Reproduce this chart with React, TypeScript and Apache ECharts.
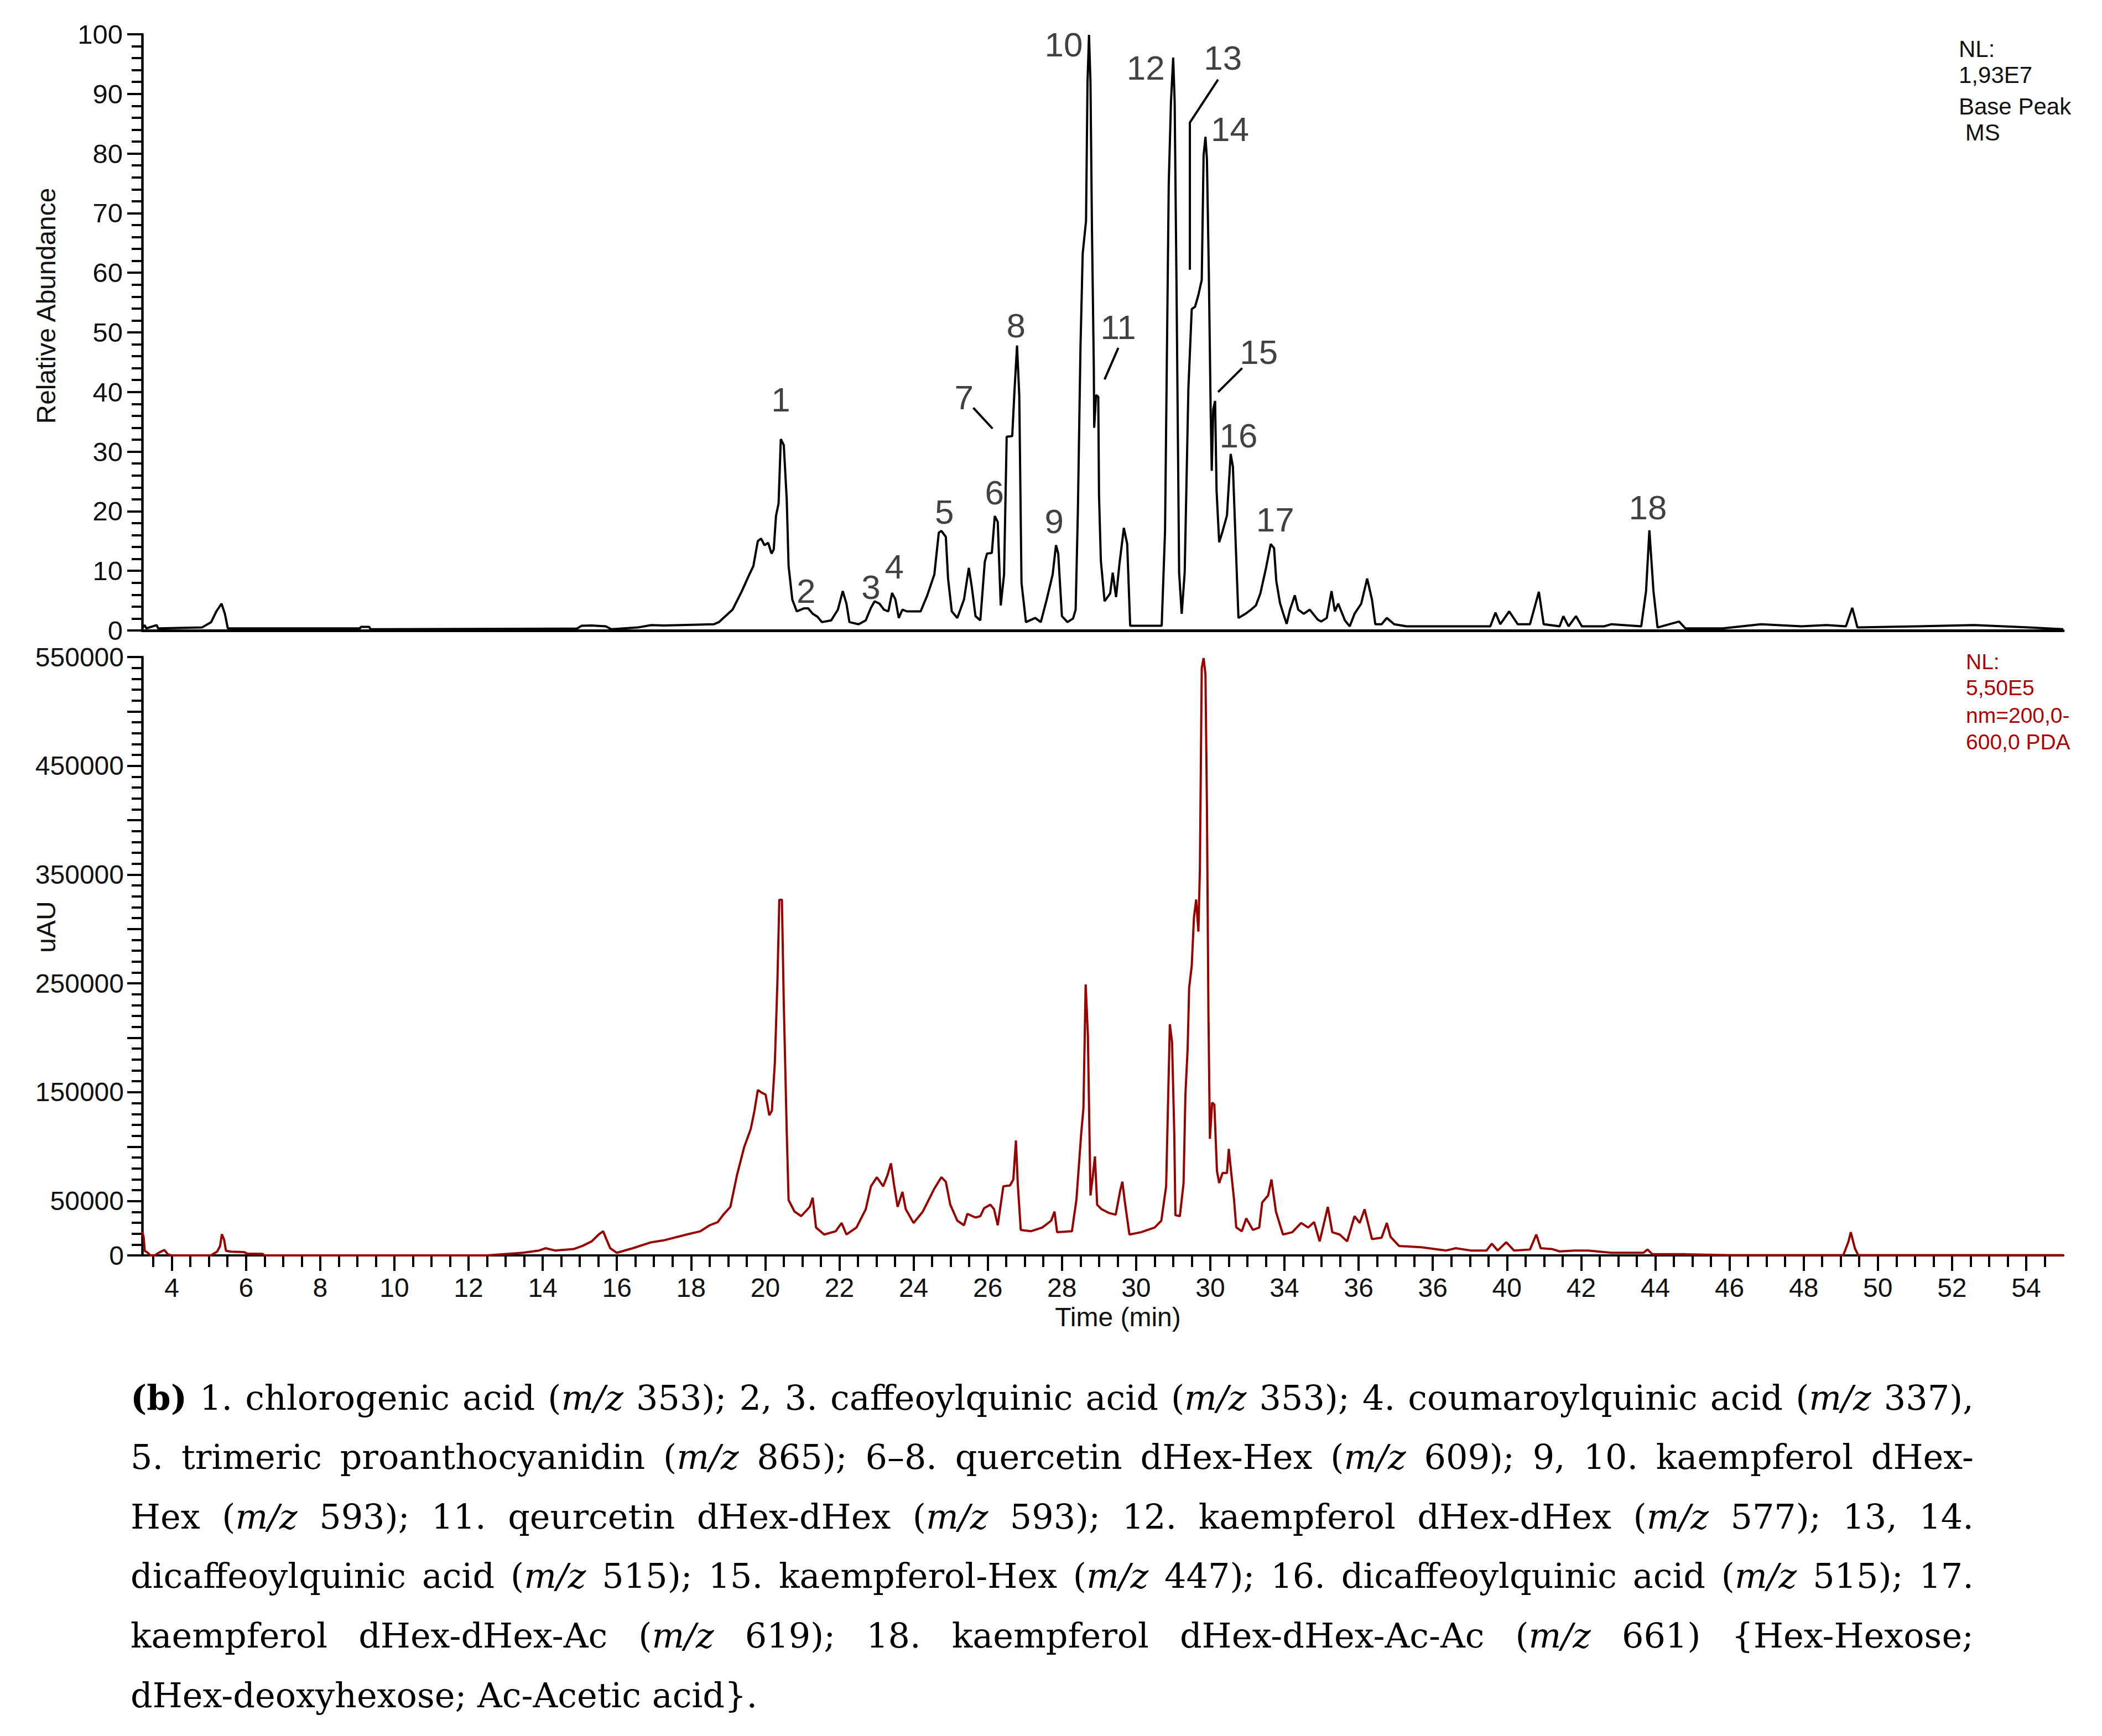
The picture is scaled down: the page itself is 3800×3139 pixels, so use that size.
import React, { useEffect, useRef } from 'react';
import * as echarts from 'echarts';

const W = 3800;
const H = 3139;

// ---- MS base peak chromatogram (top, relative abundance %) ----
const msTime = [
  3.2, 3.27, 3.31, 3.59, 3.63, 4.81, 5.06, 5.2, 5.34, 5.43, 5.51, 9.07, 9.1, 9.32, 9.36, 14.92, 15.05, 15.32, 15.7, 15.85,
  16.56, 16.93, 17.26, 18.62, 18.75, 19.12, 19.37, 19.55, 19.68, 19.8, 19.89, 19.98, 20.08, 20.17, 20.23, 20.29, 20.36,
  20.42, 20.5, 20.58, 20.63, 20.73, 20.85, 21.04, 21.16, 21.28, 21.41, 21.53, 21.78, 21.96, 22.09, 22.19, 22.27, 22.52,
  22.71, 22.85, 22.95, 23.08, 23.2, 23.32, 23.42, 23.51, 23.6, 23.7, 23.82, 24.19, 24.37, 24.56, 24.68, 24.75, 24.87,
  24.93, 25.03, 25.18, 25.36, 25.49, 25.57, 25.67, 25.8, 25.92, 25.98, 26.11, 26.19, 26.27, 26.35, 26.44, 26.51, 26.66,
  26.72, 26.79, 26.85, 26.91, 27.03, 27.28, 27.43, 27.59, 27.75, 27.84, 27.9, 28.0, 28.15, 28.3, 28.37, 28.43, 28.5,
  28.56, 28.65, 28.69, 28.73, 28.77, 28.81, 28.86, 28.87, 28.92, 28.98, 29.0, 29.05, 29.15, 29.3, 29.37, 29.46, 29.55,
  29.67, 29.76, 29.84, 30.69, 30.78, 30.88, 30.94, 31.0, 31.04, 31.09, 31.16, 31.23, 31.31, 31.41, 31.5, 31.59, 31.68,
  31.77, 31.82, 31.87, 31.91, 31.96, 32.01, 32.04, 32.08, 32.13, 32.17, 32.24, 32.33, 32.45, 32.55, 32.61, 32.69, 32.76,
  32.95, 33.1, 33.23, 33.35, 33.5, 33.63, 33.72, 33.78, 33.88, 33.97, 34.06, 34.15, 34.28, 34.37, 34.52, 34.68, 34.77,
  34.9, 34.99, 35.14, 35.27, 35.36, 35.45, 35.63, 35.76, 35.89, 36.07, 36.23, 36.36, 36.45, 36.62, 36.76, 36.96, 37.29,
  38.22, 39.55, 39.69, 39.82, 40.06, 40.29, 40.62, 40.86, 40.99, 41.42, 41.52, 41.66, 41.86, 42.02, 42.62, 42.82, 43.62,
  43.75, 43.84, 43.95, 44.06, 44.64, 44.81, 45.81, 46.85, 47.94, 48.61, 49.14, 49.31, 49.45, 51.07, 52.6, 54.07, 55.0,
];
const msAbund = [
  0.35, 0.9, 0.35, 0.9, 0.35, 0.5, 1.4, 3.2, 4.5, 2.8, 0.35, 0.35, 0.6, 0.6, 0.2, 0.3, 0.8, 0.84, 0.7, 0.2,
  0.5, 0.9, 0.84, 1.05, 1.4, 3.5, 6.6, 9.1, 10.8, 15.0, 15.4, 14.3, 14.7, 12.9, 13.6, 19.2, 21.3,
  32.1, 31.1, 22.0, 10.8, 5.2, 3.2, 3.7, 3.7, 2.8, 2.3, 1.4, 1.7, 3.5, 6.6, 4.5, 1.4, 1.05,
  1.7, 3.8, 4.9, 4.5, 3.5, 3.2, 6.3, 5.2, 2.1, 3.5, 3.2, 3.2, 5.9, 9.4, 16.4, 16.7, 15.7,
  8.7, 3.2, 2.1, 5.2, 10.5, 7.3, 2.4, 1.7, 11.5, 12.9, 13.0, 19.2, 18.2, 4.2, 9.4, 32.5, 32.6,
  40.1, 47.8, 39.4, 8.0, 1.4, 2.1, 1.4, 5.2, 9.4, 14.3, 12.9, 2.4, 1.4, 2.0, 3.5, 20.0, 47.4,
  63.2, 68.7, 92.0, 99.9, 92.0, 67.3, 44.0, 34.0, 39.5, 39.2, 22.7, 11.7, 4.9, 6.2, 9.7, 5.6, 11.1,
  17.2, 14.5, 0.8, 0.8, 16.6, 74.9, 88.6, 96.1, 88.6, 57.7, 9.7, 2.8, 9.7, 40.6, 53.9, 54.3, 56.3,
  58.8, 79.7, 82.8, 79.0, 60.5, 37.1, 26.8, 37.1, 38.5, 23.4, 14.8, 16.6, 19.3, 29.6, 27.5, 13.8, 2.1,
  2.8, 3.5, 4.2, 6.2, 10.4, 14.5, 13.8, 8.3, 4.6, 2.8, 1.1, 3.5, 5.9, 3.5, 2.8, 3.5, 2.8,
  1.8, 1.5, 2.1, 6.6, 3.2, 4.5, 1.7, 0.7, 2.8, 4.5, 8.7, 5.2, 1.05, 1.05, 2.1, 1.05, 0.7,
  0.7, 0.7, 3.0, 1.05, 3.2, 1.05, 1.05, 6.5, 1.05, 0.7, 2.4, 0.7, 2.4, 0.7, 0.7, 1.05, 0.7,
  6.6, 16.8, 6.6, 0.5, 1.5, 0.35, 0.35, 1.05, 0.7, 0.9, 0.7, 3.8, 0.5, 0.7, 0.9, 0.5, 0.2,
];

// ---- PDA chromatogram (bottom, uAU) ----
const pdaTime = [
  3.2, 3.24, 3.27, 3.35, 3.42, 3.55, 3.65, 3.8, 3.9, 4.0, 5.05, 5.22, 5.3, 5.35, 5.41, 5.46, 5.6, 5.95, 6.03, 6.45, 6.5,
  12.48, 13.46, 13.9, 14.08, 14.33, 14.83, 15.07, 15.32, 15.51, 15.63, 15.69, 15.82, 16.0, 16.43, 16.93, 17.26, 17.88,
  18.25, 18.5, 18.72, 18.87, 19.06, 19.24, 19.43, 19.61, 19.71, 19.8, 19.89, 20.01, 20.11, 20.18, 20.26, 20.33, 20.38,
  20.45, 20.5, 20.58, 20.63, 20.79, 20.97, 21.2, 21.28, 21.37, 21.59, 21.9, 22.06, 22.19, 22.46, 22.71, 22.85, 23.01,
  23.18, 23.3, 23.39, 23.47, 23.57, 23.7, 23.79, 24.0, 24.25, 24.56, 24.75, 24.87, 24.99, 25.18, 25.36, 25.45, 25.67,
  25.8, 25.9, 26.07, 26.17, 26.27, 26.42, 26.6, 26.69, 26.76, 26.81, 26.89, 27.16, 27.47, 27.71, 27.8, 27.87, 28.27,
  28.39, 28.52, 28.58, 28.64, 28.7, 28.77, 28.83, 28.89, 28.95, 29.07, 29.26, 29.45, 29.57, 29.63, 29.69, 29.82, 30.13,
  30.5, 30.68, 30.81, 30.91, 30.97, 31.03, 31.06, 31.18, 31.28, 31.33, 31.39, 31.43, 31.5, 31.56, 31.62, 31.68, 31.72,
  31.77, 31.82, 31.87, 31.91, 31.95, 31.99, 32.05, 32.11, 32.18, 32.24, 32.33, 32.45, 32.5, 32.56, 32.64, 32.7, 32.85,
  32.97, 33.15, 33.32, 33.4, 33.56, 33.65, 33.77, 33.96, 34.21, 34.45, 34.64, 34.8, 34.95, 35.17, 35.29, 35.49, 35.69,
  35.89, 36.03, 36.16, 36.36, 36.62, 36.76, 36.86, 37.09, 37.69, 38.36, 38.62, 39.02, 39.45, 39.59, 39.75, 39.98, 40.19,
  40.62, 40.79, 40.91, 41.22, 41.42, 41.82, 42.19, 42.82, 43.68, 43.79, 43.92, 44.75, 45.95, 49.07, 49.21, 49.27, 49.38,
  49.47, 55.0,
];
const pdaAbs = [
  22000, 16900, 4200, 2500, 0, 300, 2500, 5000, 800, 0, 0, 3400, 8500, 19500, 14400, 4200, 3400, 3000, 1700, 1400, 0,
  0, 2400, 4500, 6600, 4500, 5800, 8700, 12900, 19200, 22200, 17100, 6600, 2400, 6600, 12100, 13800, 19200,
  22200, 27700, 30600, 37400, 44600, 74000, 99300, 116200, 133000, 152000, 149900, 147800, 128800, 133000, 177300, 253200, 326900,
  326900, 232100, 114100, 50900, 40300, 36100, 44600, 53000, 25600, 19200, 22200, 29800, 19200, 25600, 42400, 63500, 71900,
  63500, 74000, 84600, 65600, 44600, 58400, 42400, 29800, 40300, 61400, 71900, 67700, 46600, 31900, 27700, 38200, 34800,
  36100, 43300, 46600, 42400, 27700, 63500, 64300, 69800, 105600, 65600, 23400, 22200, 25600, 31900, 40300, 21300, 22200,
  50900, 112000, 135200, 249000, 202600, 55100, 71900, 90900, 46600, 42400, 39100, 37400, 59300, 67700, 50900, 19200, 21300,
  25600, 31900, 63500, 212500, 195900, 110900, 37000, 36100, 66500, 147800, 190400, 245800, 266100, 310500, 327100, 297600, 354900,
  539700, 549000, 534200, 412200, 223600, 107200, 140400, 138600, 77600, 66500, 75700, 75700, 97900, 77600, 51700, 25800, 22200,
  34000, 23400, 25600, 48700, 55100, 69800, 40300, 19200, 21300, 29800, 25600, 30600, 12900, 44600, 21300, 19200, 12900,
  36100, 29800, 42400, 15000, 16300, 29800, 17100, 8700, 7500, 4500, 6600, 4500, 4500, 10800, 4500, 12100, 4500,
  5400, 19200, 6600, 5800, 3700, 4500, 4500, 2400, 2400, 5400, 1100, 1100, 300, 300, 12900, 21300, 6600,
  300, 300,
];

// ---- peak annotations (top chart) ----
const peakLabels = ['1', '2', '3', '4', '5', '6', '7', '8', '9', '10', '11', '12', '13', '14', '15', '16', '17', '18'];
const peakLabelTime = [20.42, 21.1, 22.85, 23.48, 24.83, 26.18, 25.36, 26.76, 27.79, 28.05, 29.52, 30.26, 32.34, 32.53, 33.31, 32.76, 33.75, 43.8];
const peakLabelValue = [38.7, 6.6, 7.3, 10.7, 19.9, 23.1, 39.1, 51.2, 18.3, 98.3, 50.9, 94.4, 96.1, 84.1, 46.7, 32.7, 18.6, 20.6];
const leaderLines = [
  [[25.61, 37.35], [26.13, 33.86]],
  [[29.52, 47.4], [29.15, 42.1]],
  [[32.21, 92.4], [31.45, 85.2], [31.45, 60.5]],
  [[32.86, 44.0], [32.21, 40.0]],
];

// ---- axis ticks ----
const xTickValues = [4, 6, 8, 10, 12, 14, 16, 18, 20, 22, 24, 26, 28, 30, 32, 34, 36, 38, 40, 42, 44, 46, 48, 50, 52, 54];
const xTickLabels = ['4', '6', '8', '10', '12', '14', '16', '18', '20', '22', '24', '26', '28', '30', '30', '34', '36', '36', '40', '42', '44', '46', '48', '50', '52', '54'];

// ---- texts ----
const msInfo = ['NL:', '1,93E7', 'Base Peak', ' MS'];
const pdaInfo = ['NL:', '5,50E5', 'nm=200,0-', '600,0 PDA'];
const captionLines: [string, string][][] = [
  [['b', '(b)'], ['n', ' 1. chlorogenic acid ('], ['i', 'm/z'], ['n', ' 353); 2, 3. caffeoylquinic acid ('], ['i', 'm/z'], ['n', ' 353); 4. coumaroylquinic acid ('], ['i', 'm/z'], ['n', ' 337),']],
  [['n', '5. trimeric proanthocyanidin ('], ['i', 'm/z'], ['n', ' 865); 6–8. quercetin dHex-Hex ('], ['i', 'm/z'], ['n', ' 609); 9, 10. kaempferol dHex-']],
  [['n', 'Hex ('], ['i', 'm/z'], ['n', ' 593); 11. qeurcetin dHex-dHex ('], ['i', 'm/z'], ['n', ' 593); 12. kaempferol dHex-dHex ('], ['i', 'm/z'], ['n', ' 577); 13, 14.']],
  [['n', 'dicaffeoylquinic acid ('], ['i', 'm/z'], ['n', ' 515); 15. kaempferol-Hex ('], ['i', 'm/z'], ['n', ' 447); 16. dicaffeoylquinic acid ('], ['i', 'm/z'], ['n', ' 515); 17.']],
  [['n', 'kaempferol dHex-dHex-Ac ('], ['i', 'm/z'], ['n', ' 619); 18. kaempferol dHex-dHex-Ac-Ac ('], ['i', 'm/z'], ['n', ' 661) {Hex-Hexose;']],
  [['n', 'dHex-deoxyhexose; Ac-Acetic acid}.']],
];

const SANS = '"Liberation Sans", Arial, sans-serif';
const SERIF = '"DejaVu Serif", "Liberation Serif", serif';

function buildCaption(): any[] {
  const canvas = document.createElement('canvas');
  const ctx = canvas.getContext('2d') as CanvasRenderingContext2D;
  const fontOf = (s: string, fs: number) =>
    `${s === 'i' ? 'italic ' : ''}${s === 'b' ? 'bold ' : ''}${fs}px ${SERIF}`;
  const measure = (t: string, s: string, fs: number) => {
    ctx.font = fontOf(s, fs);
    return ctx.measureText(t).width;
  };
  const left = 236;
  const width = 3332;
  let maxNat = 0;
  captionLines.slice(0, 5).forEach((line) => {
    const w = line.reduce((a, [s, t]) => a + measure(t, s, 60), 0);
    maxNat = Math.max(maxNat, w);
  });
  const fs = Math.min(62, (60 * width * 0.99) / maxNat);
  const els: any[] = [];
  captionLines.forEach((line, li) => {
    const words: { t: string; s: string }[][] = [[]];
    line.forEach(([s, t]) => {
      const parts = t.split(' ');
      parts.forEach((p, j) => {
        if (j > 0) words.push([]);
        if (p.length) words[words.length - 1].push({ t: p, s });
      });
    });
    const ws = words.filter((w) => w.length);
    const widths = ws.map((w) => w.reduce((a, r) => a + measure(r.t, r.s, fs), 0));
    const total = widths.reduce((a, b) => a + b, 0);
    const justify = li < captionLines.length - 1;
    const gap = justify ? (width - total) / (ws.length - 1) : measure(' ', 'n', fs);
    const y = 2527 + li * 107.6;
    let x = left;
    ws.forEach((w, wi) => {
      let rx = x;
      w.forEach((r) => {
        els.push({
          type: 'text',
          x: rx,
          y,
          silent: true,
          style: {
            text: r.t,
            fill: '#000',
            fontSize: fs,
            fontFamily: SERIF,
            fontStyle: r.s === 'i' ? 'italic' : 'normal',
            fontWeight: r.s === 'b' ? 'bold' : 'normal',
            textAlign: 'left',
            align: 'left',
            textVerticalAlign: 'middle',
            verticalAlign: 'middle',
          },
        });
        rx += measure(r.t, r.s, fs);
      });
      x += widths[wi] + gap;
    });
  });
  return els;
}

function txt(text: string, x: number, y: number, fontSize: number, fill: string, extra: any = {}) {
  return {
    type: 'text',
    x,
    y,
    silent: true,
    ...extra,
    style: {
      text,
      fill,
      fontSize,
      fontFamily: SANS,
      textAlign: extra.align || 'left',
      align: extra.align || 'left',
      textVerticalAlign: 'middle',
      verticalAlign: 'middle',
    },
  };
}

export default function App() {
  const ref = useRef<HTMLDivElement>(null);
  useEffect(() => {
    document.body.style.margin = '0';
    const el = ref.current as HTMLDivElement;
    const chart = echarts.init(el, null, { renderer: 'svg', width: W, height: H });

    const msData = msTime.map((t, i) => [t, msAbund[i]]);
    const pdaData = pdaTime.map((t, i) => [t, pdaAbs[i]]);
    const labelData = peakLabels.map((s, i) => [peakLabelTime[i], peakLabelValue[i], s]);

    const graphics: any[] = [];
    graphics.push(txt('Relative Abundance', 83, 553, 48, '#111', { rotation: Math.PI / 2, align: 'center' }));
    graphics.push(txt('uAU', 83, 1676, 48, '#111', { rotation: Math.PI / 2, align: 'center' }));
    graphics.push(txt('Time (min)', 2021, 2381, 48, '#111', { align: 'center' }));
    const msY = [88, 135, 192, 239];
    msInfo.forEach((s, i) => graphics.push(txt(s, 3541, msY[i], 42, '#111')));
    const pdaY = [1196, 1243, 1293, 1341];
    pdaInfo.forEach((s, i) => graphics.push(txt(s, 3554, pdaY[i], 39, '#b00000')));
    buildCaption().forEach((e) => graphics.push(e));

    const axisCol = '#000';
    const option: any = {
      animation: false,
      backgroundColor: '#ffffff',
      textStyle: { fontFamily: SANS },
      grid: [
        { left: 257, right: 70, top: 62, height: 1078 },
        { left: 257, right: 70, top: 1188, height: 1082 },
      ],
      xAxis: [
        {
          type: 'value',
          gridIndex: 0,
          min: 3.2,
          max: 55,
          axisLine: { show: true, onZero: false, lineStyle: { color: axisCol, width: 5 } },
          axisTick: { show: false },
          axisLabel: { show: false },
          splitLine: { show: false },
        },
        {
          type: 'value',
          gridIndex: 1,
          min: 3.2,
          max: 55,
          splitNumber: 26,
          axisLine: { show: true, onZero: false, lineStyle: { color: axisCol, width: 4 } },
          axisTick: { show: true, customValues: xTickValues, length: 28, lineStyle: { color: axisCol, width: 4 } },
          minorTick: { show: true, splitNumber: 4, length: 21, lineStyle: { color: axisCol, width: 4 } },
          axisLabel: {
            show: true,
            customValues: xTickValues,
            fontSize: 48,
            color: '#111',
            margin: 34,
            fontFamily: SANS,
            formatter: (v: number) => {
              const i = xTickValues.findIndex((x) => Math.abs(x - v) < 1e-6);
              return i >= 0 ? xTickLabels[i] : '';
            },
          },
          splitLine: { show: false },
        },
      ],
      yAxis: [
        {
          type: 'value',
          gridIndex: 0,
          min: 0,
          max: 100,
          interval: 10,
          axisLine: { show: true, onZero: false, lineStyle: { color: axisCol, width: 4.5 } },
          axisTick: { show: true, length: 27, lineStyle: { color: axisCol, width: 4 } },
          minorTick: { show: true, splitNumber: 5, length: 19, lineStyle: { color: axisCol, width: 4 } },
          axisLabel: { fontSize: 49, color: '#111', margin: 35, fontFamily: SANS },
          splitLine: { show: false },
        },
        {
          type: 'value',
          gridIndex: 1,
          min: 0,
          max: 550000,
          interval: 50000,
          axisLine: { show: true, onZero: false, lineStyle: { color: axisCol, width: 4.5 } },
          axisTick: { show: true, length: 27, lineStyle: { color: axisCol, width: 4 } },
          minorTick: { show: true, splitNumber: 5, length: 19, lineStyle: { color: axisCol, width: 4 } },
          axisLabel: {
            fontSize: 48,
            color: '#111',
            margin: 33,
            fontFamily: SANS,
            formatter: (v: number) => (v === 0 || Math.round(v / 50000) % 2 === 1 ? String(v) : ''),
          },
          splitLine: { show: false },
        },
      ],
      series: [
        {
          type: 'line',
          xAxisIndex: 0,
          yAxisIndex: 0,
          data: msData,
          showSymbol: false,
          symbol: 'none',
          lineStyle: { color: '#000', width: 4 },
          z: 3,
        },
        {
          type: 'lines',
          coordinateSystem: 'cartesian2d',
          xAxisIndex: 0,
          yAxisIndex: 0,
          polyline: true,
          silent: true,
          data: leaderLines.map((c) => ({ coords: c })),
          lineStyle: { color: '#000', width: 4, opacity: 1, curveness: 0 },
          z: 4,
        },
        {
          type: 'scatter',
          xAxisIndex: 0,
          yAxisIndex: 0,
          data: labelData,
          symbolSize: 1,
          silent: true,
          itemStyle: { color: 'rgba(0,0,0,0)' },
          label: {
            show: true,
            position: 'inside',
            formatter: (p: any) => p.data[2],
            fontSize: 62,
            color: '#111',
            fontFamily: SANS,
          },
          z: 5,
        },
        {
          type: 'line',
          xAxisIndex: 1,
          yAxisIndex: 1,
          data: pdaData,
          showSymbol: false,
          symbol: 'none',
          lineStyle: { color: '#990000', width: 4 },
          z: 3,
        },
      ],
      graphic: graphics,
    };
    chart.setOption(option);
    return () => chart.dispose();
  }, []);
  return (
    <div
      ref={ref}
      style={{ position: 'absolute', left: 0, top: 0, width: W, height: H, background: '#fff' }}
    />
  );
}
